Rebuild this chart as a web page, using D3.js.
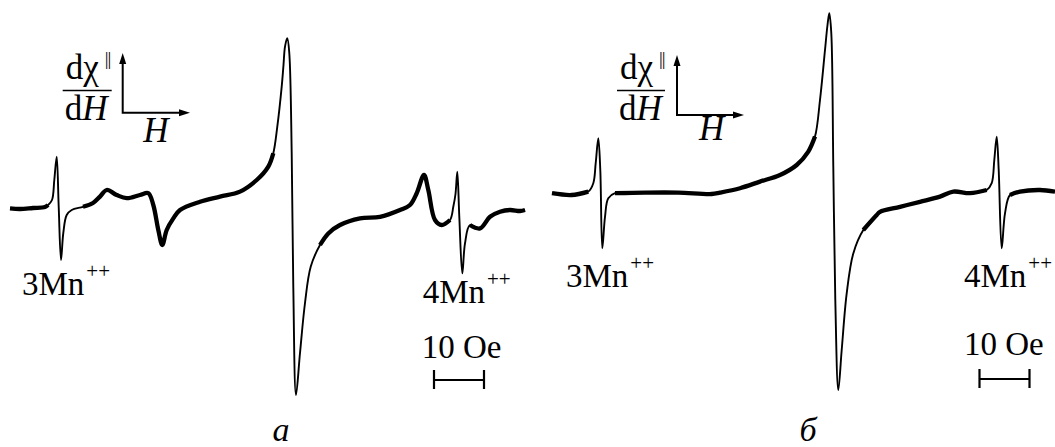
<!DOCTYPE html>
<html>
<head>
<meta charset="utf-8">
<script src="https://cdn.jsdelivr.net/npm/d3@7"></script>
<style>
  body { margin: 0; background: #fff; }
  svg text { font-family: "Liberation Serif", "DejaVu Serif", serif; fill: #000; }
</style>
</head>
<body>
<div id="chart"></div>
<script>
// field in Oe from the left edge of each trace, signal in arbitrary units
const fieldA = [0, 2, 4.6, 7, 7.6, 8.4, 8.86, 9.34, 9.74, 10.2, 10.66, 11.34, 12.34, 14.6, 16.6, 18, 19.34,
  21.34, 23.34, 26, 27.66, 28.66, 29.66, 30.46, 31.34, 32.66, 34, 38, 42, 46, 49.34, 51.66, 52.66, 53.46,
  54.34, 54.7, 55, 55.46, 55.86, 56.34, 56.66, 57.2, 58, 59, 60.14, 62, 63.66, 66, 70, 74, 78, 80, 81.34,
  82.8, 83.66, 85, 86.34, 88, 88.66, 89.1, 89.46, 89.86, 90.46, 91, 92, 94, 96, 98, 100, 102, 103];
const signalA = [-4.2, -4.5, -4, -3.5, -2.5, 0, 10, 21.7, -3.4, -30, -16.5, -7.5, -5, -3.4, -1.5, 1.7, 5,
  2.5, 0.9, 2.5, 3.4, -2.5, -15, -22.5, -15, -9.2, -5, -0.9, 1.7, 4.2, 10, 16.7, 23.4, 36.7,
  56.7, 67.5, 76.7, 80.9, 73.4, 23.5, -43.4, -97.5, -76.5, -51.5, -33.4, -22.5, -16.7, -12.5, -9.2, -8.4, -5, -2.5, 3.4,
  12.5, 5, -10, -12.5, -10, -3.4, 3, 14.2, -8.4, -36.7, -21.7, -12.5, -14.2, -8.4, -5.9, -5, -5.5, -5];

const fieldB = [0, 3.94, 7.26, 8.26, 8.74, 9.26, 9.66, 10.06, 10.6, 11.26, 12.6, 18.6, 25.26, 31.94, 33.6,
  37.6, 41.6, 45.6, 48.94, 51.26, 52.6, 53.6, 54.6, 55.1, 55.46, 55.86, 56.26, 56.66, 57.26, 57.94, 58.94,
  60.26, 62.26, 64.94, 65.6, 69.6, 73.6, 77.6, 80.26, 83.6, 86.94, 87.94, 88.46, 88.94, 89.34, 89.94, 90.6,
  91.6, 93.6, 97.6, 100.6];
const signalB = [3.4, 2.5, 4.2, 8.4, 18.4, 30.9, 15, -24.2, -8.4, 0.9, 3.4, 3.7, 3.7, 3, 3.7,
  5.9, 9.2, 12.5, 17.5, 24.2, 31.7, 50, 75, 87.5, 93.4, 83.4, 16.7, -50, -95, -75, -46.7,
  -26.7, -15, -7.5, -5.9, -3.4, -0.9, 1.7, 4.2, 3.4, 5, 8.4, 20, 31.7, 15, -24.2, -6.7,
  2.5, 4.2, 5, 4.2];

// field ranges where the lines are sharp and the trace shows no noise
const cleanA = [[8.2, 12.4], [53, 60.5], [88.6, 91.1]];
const cleanB = [[8.0, 11.3], [53, 60.5], [87.8, 90.8]];

const ionLabels = ["3Mn", "4Mn"];
const ionCharge = "++";
const scaleLabel = "10 Oe";
const scaleLength = 10; // Oe
const panelLabels = ["а", "б"];

const width = 1055, height = 447;

const svg = d3.select("#chart").append("svg")
  .attr("width", width)
  .attr("height", height)
  .attr("font-family", "'Liberation Serif', 'DejaVu Serif', serif");

svg.append("rect").attr("width", width).attr("height", height).attr("fill", "#fff");

const y = d3.scaleLinear().domain([-100, 100]).range([400, 0]);

const panels = [
  { field: fieldA, signal: signalA, clean: cleanA,
    x: d3.scaleLinear().domain([0, 103]).range([10, 525]),
    bar: 84.8, barY: 380, barText: [421.7, 358],
    ions: [[22, 295], [422.7, 303]],
    frac: { x: 62.7, w: 49 }, axis: { x: 122.7, y: 112.7, top: 53, right: 190 }, hLabel: [143.3, 141.7],
    label: 281 },
  { field: fieldB, signal: signalB, clean: cleanB,
    x: d3.scaleLinear().domain([0, 100.6]).range([552, 1055]),
    bar: 85.5, barY: 379, barText: [964, 355],
    ions: [[566, 287], [964, 287]],
    frac: { x: 617, w: 48 }, axis: { x: 677, y: 115, top: 55, right: 744 }, hLabel: [699, 140],
    label: 808 }
];

panels.forEach((p, pi) => {
  const pts = p.field.map((f, i) => ({ f: f, s: p.signal[i] }));
  const isClean = (d) => p.clean.some((r) => d.f > r[0] && d.f < r[1]);

  const line = d3.line()
    .x((d) => p.x(d.f))
    .y((d) => y(d.s))
    .curve(d3.curveCatmullRom.alpha(0.5));

  // noisy parts drawn as a wider band
  svg.append("path")
    .datum(pts)
    .attr("d", line.defined((d) => !isClean(d)))
    .attr("fill", "none")
    .attr("stroke", "#000")
    .attr("stroke-width", 4.3)
    .attr("stroke-linejoin", "round");

  svg.append("path")
    .datum(pts)
    .attr("d", line.defined(() => true))
    .attr("fill", "none")
    .attr("stroke", "#000")
    .attr("stroke-width", 1.9)
    .attr("stroke-linejoin", "round");

  // dχ/dH label
  const fr = svg.append("g");
  fr.append("text").attr("x", p.frac.x + 3).attr("y", 79).attr("font-size", 35).text("dχ");
  fr.append("text").attr("x", p.frac.x + 42).attr("y", 65).attr("font-size", 19)
    .attr("letter-spacing", -1).text("||");
  fr.append("line")
    .attr("x1", p.frac.x).attr("x2", p.frac.x + p.frac.w)
    .attr("y1", 90.5).attr("y2", 90.5)
    .attr("stroke", "#000").attr("stroke-width", 1.5);
  const dh = fr.append("text").attr("x", p.frac.x + 2).attr("y", 120).attr("font-size", 35);
  dh.append("tspan").text("d");
  dh.append("tspan").attr("font-style", "italic").text("H");

  // axis arrows
  const a = p.axis;
  svg.append("path")
    .attr("d", `M${a.x},${a.top + 8}V${a.y}H${a.right - 8}`)
    .attr("fill", "none").attr("stroke", "#000").attr("stroke-width", 2);
  svg.append("path")
    .attr("d", `M${a.x},${a.top}L${a.x - 3.5},${a.top + 11}L${a.x + 3.5},${a.top + 11}Z`)
    .attr("fill", "#000");
  svg.append("path")
    .attr("d", `M${a.right},${a.y}L${a.right - 11},${a.y - 3.5}L${a.right - 11},${a.y + 3.5}Z`)
    .attr("fill", "#000");
  svg.append("text").attr("x", p.hLabel[0]).attr("y", p.hLabel[1])
    .attr("font-size", 35).attr("font-style", "italic").text("H");

  // Mn++ markers
  p.ions.forEach((pos, i) => {
    const t = svg.append("text").attr("x", pos[0]).attr("y", pos[1]).attr("font-size", 33);
    t.append("tspan").text(ionLabels[i]);
    t.append("tspan").attr("dx", 2).attr("dy", -17).attr("font-size", 21).text(ionCharge);
  });

  // 10 Oe scale bar
  svg.append("text").attr("x", p.barText[0]).attr("y", p.barText[1]).attr("font-size", 33).text(scaleLabel);
  const x0 = p.x(p.bar), x1 = p.x(p.bar + scaleLength);
  svg.append("path")
    .attr("d", `M${x0},${p.barY - 10}V${p.barY + 9}M${x0},${p.barY}H${x1}M${x1},${p.barY - 10}V${p.barY + 9}`)
    .attr("fill", "none").attr("stroke", "#000").attr("stroke-width", 2.2);

  svg.append("text").attr("x", p.label).attr("y", 441)
    .attr("text-anchor", "middle").attr("font-size", 34).attr("font-style", "italic")
    .text(panelLabels[pi]);
});
</script>
</body>
</html>
